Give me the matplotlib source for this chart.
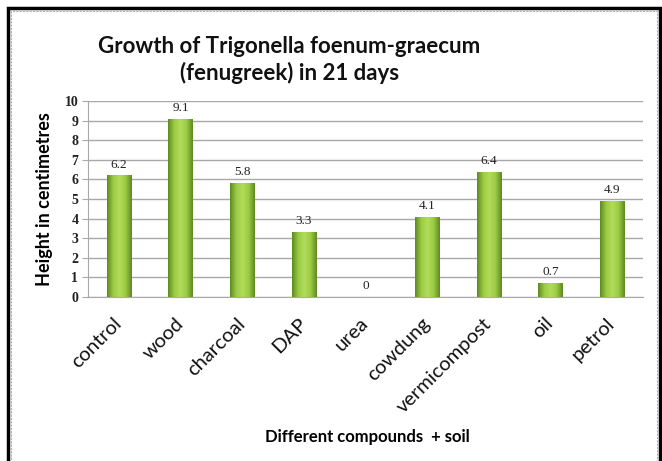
import numpy as np
import matplotlib.pyplot as plt
from matplotlib.colors import LinearSegmentedColormap
from matplotlib.patches import Rectangle

# data
categories = ['control', 'wood', 'charcoal', 'DAP', 'urea', 'cowdung',
              'vermicompost', 'oil', 'petrol']
heights = [6.2, 9.1, 5.8, 3.3, 0, 4.1, 6.4, 0.7, 4.9]
value_labels = ['6.2', '9.1', '5.8', '3.3', '0', '4.1', '6.4', '0.7', '4.9']
yticks = list(range(0, 11))

fig = plt.figure(figsize=(6.62, 4.61), dpi=100)
ax = fig.add_axes([0.1329, 0.3557, 0.8384, 0.4252])

x = np.arange(len(categories))
bars = ax.bar(x, heights, width=0.39, color='#8cbb3c', edgecolor='none', zorder=2)

# horizontal shading on each bar like the spreadsheet's 3D look
cmap = LinearSegmentedColormap.from_list('grn', ['#5f8a22', '#9ccb44', '#b2dc5a', '#9ccb44', '#5f8a22'])
grad = np.linspace(0, 1, 64).reshape(1, -1)
for b in bars:
    h = b.get_height()
    if h <= 0:
        continue
    x0 = b.get_x()
    w = b.get_width()
    im = ax.imshow(grad, cmap=cmap, aspect='auto', extent=(x0, x0 + w, 0, h), zorder=3)
    im.set_clip_path(b)

for xi, h, lab in zip(x, heights, value_labels):
    ax.text(xi, h + 0.25, lab, ha='center', va='bottom', fontsize=9.5,
            family='Liberation Serif', color='#222222', zorder=4)

ax.set_xlim(-0.5, len(categories) - 0.5)
ax.set_ylim(0, 10)
ax.set_yticks(yticks)
ax.set_yticklabels([str(t) for t in yticks], family='Liberation Serif',
                   fontsize=10, fontweight='bold', color='#222222')
ax.yaxis.grid(True, color='#a8a8a8', linewidth=1.0, zorder=0)
ax.set_axisbelow(True)
ax.tick_params(axis='y', length=4, color='#a8a8a8', pad=3)
ax.tick_params(axis='x', length=0, pad=17)
ax.set_xticks(x)
ax.set_xticklabels(categories, rotation=45, ha='right', va='center',
                   rotation_mode='anchor', family='Lato', fontsize=14.5,
                   color='#111111')
for side in ['top', 'right']:
    ax.spines[side].set_visible(False)
ax.spines['left'].set_color('#a8a8a8')
ax.spines['bottom'].set_color('#a8a8a8')

ax.set_ylabel('Height in centimetres', family='Lato', fontweight='bold',
              fontsize=13, labelpad=8)
fig.text(0.555, 0.052, 'Different compounds  + soil', family='Lato',
         fontweight='bold', fontsize=12, ha='center', va='center')
fig.text(0.437, 0.87, 'Growth of Trigonella foenum-graecum\n(fenugreek) in 21 days',
         family='Lato', fontweight='bold', fontsize=16, ha='center', va='center',
         linespacing=1.3, color='#111111')

# outer frame: thick black line and a thin grey inner line
fig.patches.append(Rectangle((7.5 / 662, -0.05), (660 - 7.5) / 662, 1 - 8.0 / 461 + 0.05,
                             transform=fig.transFigure, fill=False,
                             edgecolor='black', linewidth=2.5))
fig.patches.append(Rectangle((11 / 662, -0.05), (656.5 - 11) / 662, 1 - 11.5 / 461 + 0.05,
                             transform=fig.transFigure, fill=False,
                             edgecolor='#b0b0b0', linewidth=0.8, linestyle=(0, (2, 1))))

fig.savefig('out.png', dpi=100)
